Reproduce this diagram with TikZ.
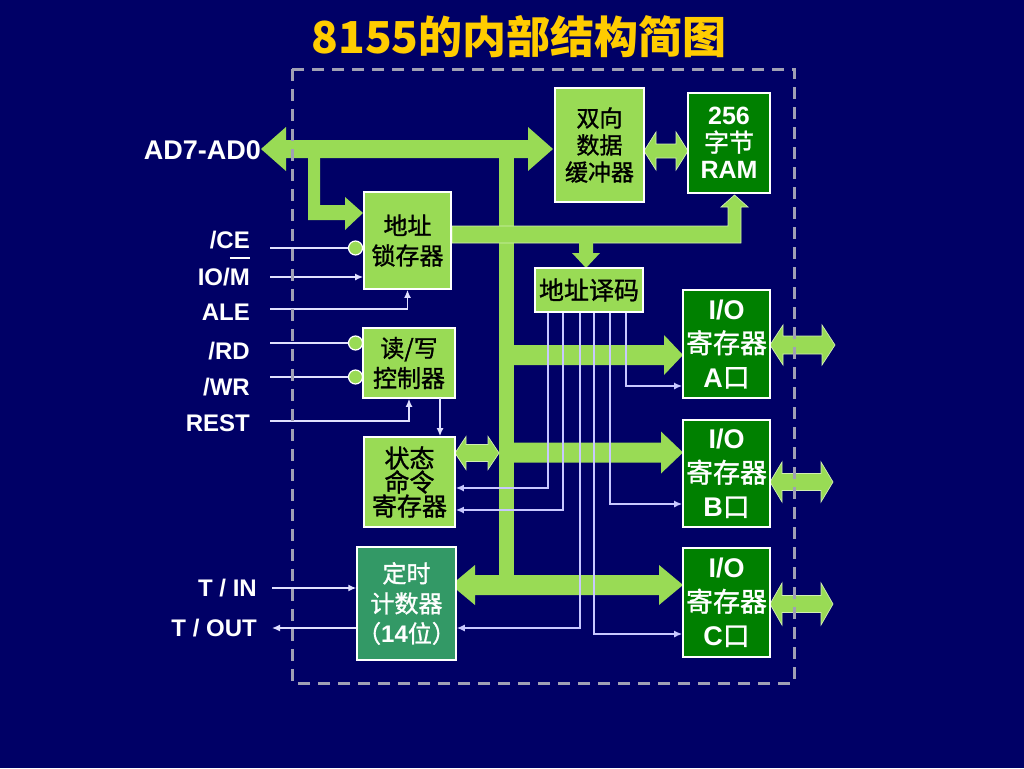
\documentclass[tikz,border=0pt]{standalone}
\usepackage{fontspec}
\setmainfont{Liberation Sans}
\newfontfamily\cjk{Noto Sans CJK SC}[FakeBold=1.2]
\newfontfamily\cjkt{Noto Sans CJK SC}
\usetikzlibrary{arrows.meta}
\definecolor{bg}{RGB}{0,0,102}
\definecolor{lg}{RGB}{153,219,85}
\definecolor{dg}{RGB}{0,128,0}
\definecolor{tg}{RGB}{51,153,102}
\definecolor{ttl}{RGB}{255,204,0}
\definecolor{dlc}{RGB}{200,200,255}
\definecolor{dashc}{RGB}{160,160,180}
\newcommand\busDH[7][]{\path[busfill,#1] (#2,#4) -- ({#2+#7},{#4-#6}) -- ({#2+#7},{#4-#5}) -- ({#3-#7},{#4-#5}) -- ({#3-#7},{#4-#6}) -- (#3,#4) -- ({#3-#7},{#4+#6}) -- ({#3-#7},{#4+#5}) -- ({#2+#7},{#4+#5}) -- ({#2+#7},{#4+#6}) -- cycle;}
\newcommand\busRH[7][]{\path[busfill,#1] (#2,{#4-#5}) -- ({#3-#7},{#4-#5}) -- ({#3-#7},{#4-#6}) -- (#3,#4) -- ({#3-#7},{#4+#6}) -- ({#3-#7},{#4+#5}) -- (#2,{#4+#5}) -- cycle;}
\tikzset{
  busfill/.style={fill=lg},
  outl/.style={draw=lg!45!white, line width=0.7pt},
  lbox/.style={draw=white, line width=1.8pt, fill=lg, text=black, inner sep=0pt, align=center, font={\cjk\fontsize{24}{30}\selectfont}},
  dbox/.style={lbox, fill=dg, text=white},
  sig/.style={text=white, inner sep=0pt, anchor=base east, font={\bfseries\fontsize{24}{24}\selectfont}},
  bub/.style={circle, fill=lg, draw=white, line width=1.2pt, minimum size=14pt, inner sep=0pt},
  sl/.style={draw=white!88!blue, line width=1.3pt},
  dl/.style={draw=dlc, line width=1.3pt},
  tip/.style={-{Latex[length=8pt,width=7pt]}}
}
\begin{document}
\begin{tikzpicture}[x=1pt,y=-1pt]
\useasboundingbox (0,0) rectangle (1024,768);
\fill[bg] (0,0) rectangle (1024,768);
% title
\node[font={\cjkt\bfseries\fontsize{44}{44}\selectfont}, text=ttl] (title) at (519,37) {8155的内部结构简图};
% buses
\busDH{261}{553}{149}{9}{22}{25}
\fill[lg] (499,150) rectangle (514,576);
\fill[lg] (308,150) -- (320,150) -- (320,205) -- (345,205) -- (345,197) -- (363,213) -- (345,230) -- (345,220) -- (308,220) -- cycle;
\path[busfill,outl] (452,226) -- (728,226) -- (728,207) -- (721,207) -- (734.5,195) -- (748,207) -- (741,207) -- (741,243) -- (452,243) -- cycle;
\fill[lg] (579,242) -- (593,242) -- (593,253) -- (600,253) -- (586,268) -- (572,253) -- (579,253) -- cycle;
\busDH[outl]{644}{688}{151}{7}{19}{12}
\busRH{513}{683}{355}{10}{20}{19}
\busRH{513}{683}{452.5}{10}{21}{22}
\busDH[outl]{455}{499}{453}{8.5}{16.5}{11}
\busDH{451}{683}{585}{10}{20}{24}
\busDH[outl]{770}{835}{345}{9}{20}{13}
\busDH[outl]{770}{833}{482}{8.5}{20}{12}
\busDH[outl]{770}{833}{604}{8.5}{21}{12}
% boxes
\node[lbox, minimum width=89pt, minimum height=114pt, font={\cjk\fontsize{23}{27}\selectfont}] (buf) at (599.5,145) {双向\\数据\\缓冲器};
\node[dbox, minimum width=82pt, minimum height=100pt, font={\fontsize{25}{27}\selectfont}] (ram) at (729,143) {\bfseries 256\\{\cjk 字节}\\\bfseries RAM};
\node[lbox, minimum width=87pt, minimum height=97pt] (latch) at (407.5,240.5) {地址\\锁存器};
\node[lbox, minimum width=92pt, minimum height=70pt] (rw) at (409,363) {读/写\\控制器};
\node[lbox, minimum width=91pt, minimum height=90pt, font={\cjk\fontsize{25}{24}\selectfont}] (status) at (409.5,482) {状态\\命令\\寄存器};
\node[lbox, fill=tg, text=white, minimum width=86pt, minimum height=113pt] (timer) at (406.5,603.5) {定时\\计数器\\（{\normalfont\bfseries 14}位）};
\node[lbox, minimum width=108pt, minimum height=44pt, font={\cjk\fontsize{25}{25}\selectfont}] (dec) at (589,290) {地址译码};
\node[dbox, minimum width=87pt, minimum height=108pt, font={\fontsize{27}{34}\selectfont}] (ioa) at (726.5,344) {\bfseries I/O\\{\cjk 寄存器}\\{\bfseries A}{\cjk 口}};
\node[dbox, minimum width=87pt, minimum height=107pt, font={\fontsize{27}{34}\selectfont}] (iob) at (726.5,473.5) {\bfseries I/O\\{\cjk 寄存器}\\{\bfseries B}{\cjk 口}};
\node[dbox, minimum width=87pt, minimum height=109pt, font={\fontsize{27}{34}\selectfont}] (ioc) at (726.5,602.5) {\bfseries I/O\\{\cjk 寄存器}\\{\bfseries C}{\cjk 口}};
% left signals
\node[sig, font={\bfseries\fontsize{27}{27}\selectfont}] (lad) at (261,159.5) {AD7-AD0};
\node[sig] (lce) at (250,248.6) {/CE};
\node[sig] (liom) at (250,285.6) {IO/\makebox[0pt][l]{\raisebox{27pt}{\rule{20pt}{2pt}}}M};
\node[sig] (lale) at (250,320.6) {ALE};
\node[sig] (lrd) at (250,359.6) {/RD};
\node[sig] (lwr) at (250,395.6) {/WR};
\node[sig] (lrest) at (250,431.6) {REST};
\node[sig] (ltin) at (257,596.6) {T / IN};
\node[sig] (ltout) at (257,636.6) {T / OUT};
\node[bub] (bce) at (355.5,248) {};
\node[bub] (brd) at (355.5,343) {};
\node[bub] (bwr) at (355.5,377) {};
\coordinate (sce) at (270,248);
\coordinate (siom) at (270,277);
\coordinate (sale) at (270,309);
\coordinate (srd) at (270,343);
\coordinate (swr) at (270,377);
\coordinate (srest) at (270,421);
\coordinate (rwo) at (440,398);
\coordinate (stin) at (272,588);
\coordinate (stout) at (272,628);
\draw[sl] (sce) -- (bce.west);
\draw[sl,tip] (siom) -- (siom -| latch.west);
\draw[sl,tip] (sale) -| (latch.south);
\draw[sl] (srd) -- (brd.west);
\draw[sl] (swr) -- (bwr.west);
\draw[sl,tip] (srest) -| (rw.south);
\draw[sl,tip] (rwo) -- (rwo |- status.north);
\draw[sl,tip] (stin) -- (stin -| timer.west);
\draw[sl,tip] (stout -| timer.west) -- (stout);
% decoder lines
\draw[dl,tip] (dec.south -| 548,0) |- (status.east |- 0,488);
\draw[dl,tip] (dec.south -| 563,0) |- (status.east |- 0,510);
\draw[dl,tip] (dec.south -| 580,0) |- (timer.east |- 0,628);
\draw[dl,tip] (dec.south -| 594,0) |- (ioc.west |- 0,634);
\draw[dl,tip] (dec.south -| 610,0) |- (iob.west |- 0,504);
\draw[dl,tip] (dec.south -| 626,0) |- (ioa.west |- 0,386);
% dashed border
\draw[dashc, line width=3pt, dash pattern=on 12pt off 8pt] (292,69) rectangle (794,683);
\end{tikzpicture}
\end{document}
